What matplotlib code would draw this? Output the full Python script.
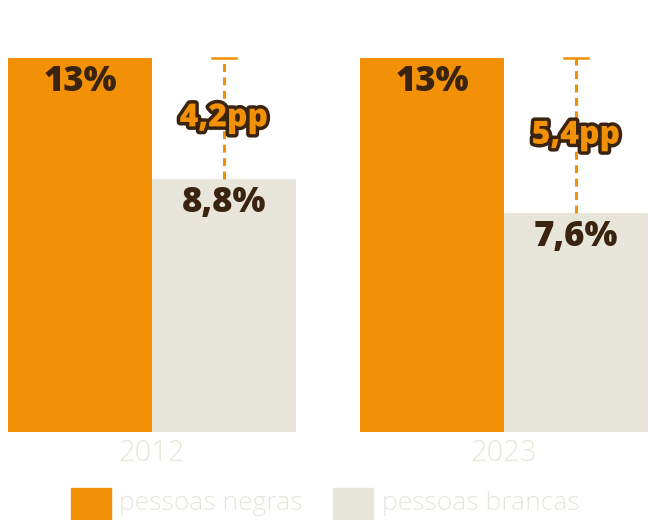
import matplotlib
matplotlib.use('Agg')
import matplotlib.pyplot as plt
import matplotlib.patheffects as pe
import numpy as np

anos = ['2012', '2023']
negras = [13.0, 13.0]
brancas = [8.8, 7.6]
rotulos_negras = ['13%', '13%']
rotulos_brancas = ['8,8%', '7,6%']
diferenca = ['4,2pp', '5,4pp']

laranja = '#F29105'
bege = '#E8E6DA'
marrom = '#3A2410'

plt.rcParams['font.family'] = ['Open Sans', 'DejaVu Sans']

fig = plt.figure(figsize=(6.56, 5.2), dpi=100)
# eixo ocupa toda a largura; base das barras a 88px do fundo
ax = fig.add_axes([0, 88 / 520, 1, 432 / 520])
ax.set_xlim(-152 / 352, 504 / 352)
ax.set_ylim(0, 13 * 432 / 374)
ax.axis('off')

x = np.arange(len(anos))
w = 144 / 352
ax.bar(x - w / 2, negras, w, color=laranja, label='pessoas negras')
ax.bar(x + w / 2, brancas, w, color=bege, label='pessoas brancas')

off = 24 / 28.77  # ~24px abaixo do topo
for i in range(len(anos)):
    ax.text(x[i] - w / 2, negras[i] - off, rotulos_negras[i], ha='center', va='center',
            fontsize=25, fontweight='heavy', color=marrom)
    ax.text(x[i] + w / 2, brancas[i] - off, rotulos_brancas[i], ha='center', va='center',
            fontsize=25, fontweight='heavy', color=marrom)
    xc = x[i] + w / 2
    ax.plot([xc, xc], [brancas[i], negras[i]], color=laranja, lw=2.2,
            linestyle=(0, (2.6, 1.8)))
    ax.plot([xc - 0.034, xc + 0.034], [negras[i], negras[i]], color=laranja, lw=1.8)
    ax.text(xc, (brancas[i] + negras[i]) / 2, diferenca[i], ha='center', va='center',
            fontsize=23, fontweight='heavy', color=laranja,
            path_effects=[pe.withStroke(linewidth=5, foreground=marrom)])
    # rótulo do ano
    fig.text((152 + 352 * i) / 656, 1 - 453 / 520, anos[i], ha='center', va='center',
             fontsize=21, color=bege, fontweight='light')

# legenda manual
fig.patches.append(plt.Rectangle((71 / 656, 0), 40 / 656, 32 / 520,
                                 transform=fig.transFigure, color=laranja))
fig.text(119 / 656, 1 - 503 / 520, 'pessoas negras', ha='left', va='center',
         fontsize=19, color=bege, fontweight='light')
fig.patches.append(plt.Rectangle((333 / 656, 0), 40 / 656, 32 / 520,
                                 transform=fig.transFigure, color=bege))
fig.text(382 / 656, 1 - 503 / 520, 'pessoas brancas', ha='left', va='center',
         fontsize=19, color=bege, fontweight='light')

fig.savefig('out.png', dpi=100)
